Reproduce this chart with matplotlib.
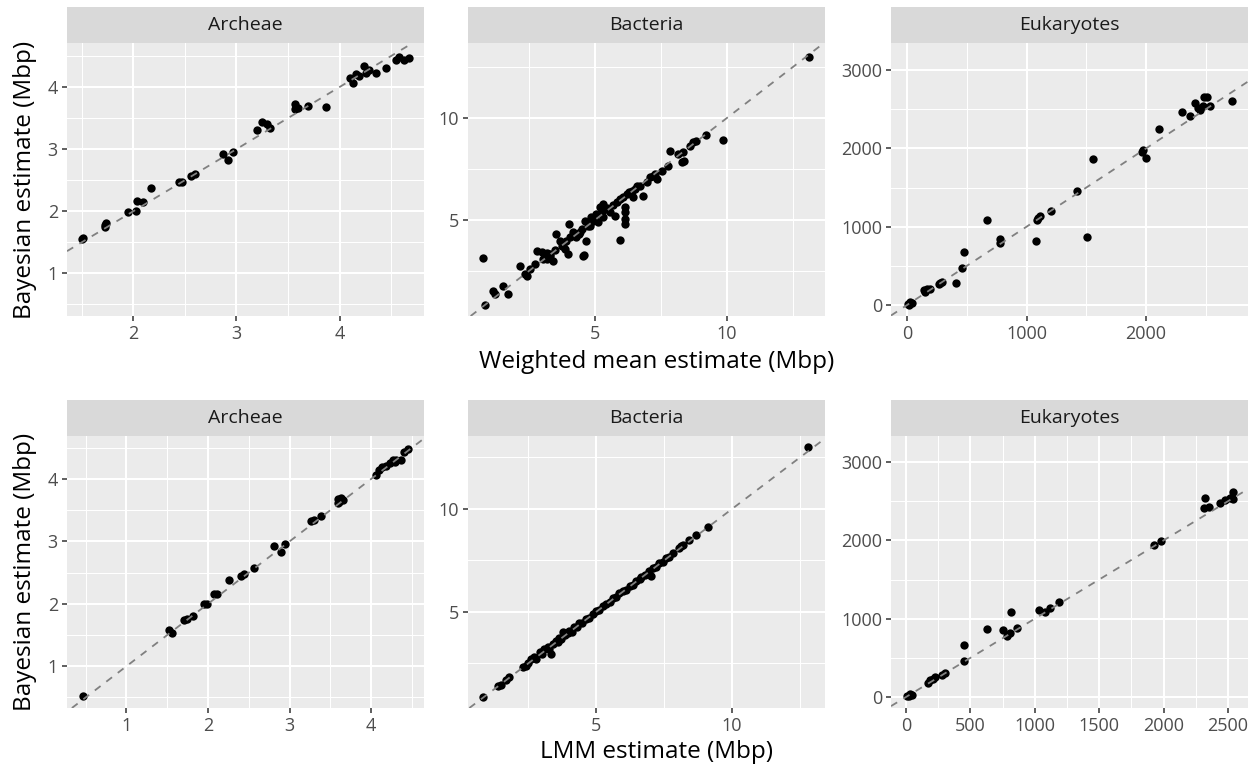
import matplotlib.pyplot as plt
from matplotlib.ticker import FixedLocator

plt.rcParams['font.family'] = ['Open Sans', 'DejaVu Sans']

# --- Archeae: weighted mean vs bayesian ---
arch_wm = [1.51, 1.50, 1.72, 1.72, 1.73, 1.95, 2.02, 2.03, 2.09, 2.17, 2.44, 2.47, 2.56, 2.60,
           2.87, 2.92, 2.97, 3.20, 3.25, 3.30, 3.33, 3.57, 3.57, 3.60, 3.69, 3.87, 4.10, 4.13,
           4.16, 4.19, 4.24, 4.26, 4.29, 4.35, 4.45, 4.55, 4.58, 4.63, 4.67]
arch_wm_bayes = [1.57, 1.55, 1.74, 1.78, 1.81, 1.99, 2.00, 2.16, 2.15, 2.38, 2.47, 2.47, 2.57, 2.60,
                 2.92, 2.83, 2.95, 3.31, 3.43, 3.41, 3.34, 3.72, 3.64, 3.66, 3.69, 3.68, 4.14, 4.06,
                 4.21, 4.18, 4.34, 4.23, 4.27, 4.23, 4.31, 4.44, 4.49, 4.44, 4.47]

# --- Bacteria: weighted mean vs bayesian ---
bact_wm = [13.10, 9.22, 9.87, 8.73, 8.61, 8.84, 7.85, 8.16, 8.35, 8.29, 8.38, 7.78, 7.53, 7.28,
           7.34, 7.09, 6.96, 6.71, 6.52, 6.39, 6.20, 6.08, 6.45, 6.83, 6.14, 6.14, 6.14, 6.14,
           5.95, 5.95, 5.57, 5.76, 5.32, 5.25, 5.06, 5.13, 4.87, 4.81, 4.62, 4.68, 4.43, 4.56,
           4.30, 4.18, 4.02, 4.05, 3.92, 3.99, 3.86, 3.80, 3.67, 3.54, 3.29, 3.17, 3.10, 2.98,
           2.79, 2.72, 2.53, 2.34, 2.15, 1.52, 1.71, 1.14, 1.20, 0.76, 0.82, 5.19, 5.44, 4.94,
           4.58, 3.42, 3.04, 2.41, 5.45, 5.00, 4.75, 4.50, 4.25, 3.75, 3.50, 3.30, 5.70, 5.85,
           6.30, 6.60, 7.20, 3.20, 4.40, 4.90, 5.30]
bact_wm_bayes = [13.00, 9.18, 8.92, 8.80, 8.64, 8.89, 8.36, 8.24, 8.31, 7.82, 7.91, 7.66, 7.42, 7.25,
                 7.00, 7.09, 6.84, 6.68, 6.52, 6.44, 6.27, 6.11, 6.11, 6.19, 5.62, 5.37, 5.05, 4.80,
                 4.02, 6.03, 5.37, 5.21, 5.78, 5.37, 5.29, 4.88, 5.13, 4.72, 4.97, 3.99, 4.39, 3.25,
                 4.15, 4.39, 4.80, 4.15, 3.99, 3.33, 3.58, 3.82, 3.99, 4.31, 3.25, 3.09, 3.25, 3.41,
                 3.50, 2.84, 2.60, 2.35, 2.76, 1.78, 1.37, 1.54, 1.37, 3.14, 0.85, 5.62, 5.54, 4.97,
                 3.30, 3.00, 3.09, 2.27, 5.60, 5.05, 4.70, 4.55, 4.20, 3.70, 3.55, 3.35, 5.75, 5.90,
                 6.35, 6.65, 7.15, 3.40, 4.30, 5.00, 5.15]

# --- Eukaryotes: weighted mean vs bayesian ---
euk_wm = [5, 28, 42, 17, 139, 167, 189, 153, 265, 292, 279, 412, 460, 474, 669, 780, 780, 1078,
          1086, 1114, 1100, 1203, 1421, 1504, 1552, 1978, 2000, 1964, 2109, 2298, 2368, 2409,
          2437, 2479, 2485, 2513, 2535, 2451, 2716]
euk_wm_bayes = [13, 43, 30, 0, 191, 200, 208, 170, 268, 298, 277, 277, 468, 672, 1085, 838, 787, 821,
                1085, 1136, 1106, 1204, 1455, 872, 1860, 1979, 1872, 1957, 2243, 2460, 2413, 2574,
                2511, 2540, 2660, 2651, 2540, 2489, 2609]

# --- Archeae: LMM vs bayesian ---
arch_lmm = [0.47, 1.52, 1.56, 1.70, 1.74, 1.82, 1.95, 1.99, 2.07, 2.11, 2.26, 2.40, 2.44, 2.57,
            2.81, 2.89, 2.95, 3.26, 3.30, 3.39, 3.59, 3.61, 3.63, 3.66, 3.60, 4.06, 4.10, 4.14,
            4.18, 4.23, 4.27, 4.29, 4.31, 4.37, 4.40, 4.45]
arch_lmm_bayes = [0.53, 1.58, 1.54, 1.74, 1.76, 1.81, 1.99, 2.00, 2.15, 2.16, 2.38, 2.45, 2.47, 2.57,
                  2.92, 2.83, 2.96, 3.32, 3.34, 3.41, 3.68, 3.64, 3.70, 3.67, 3.62, 4.07, 4.15, 4.19,
                  4.21, 4.25, 4.31, 4.27, 4.30, 4.30, 4.44, 4.48]

# --- Bacteria: LMM vs bayesian ---
bact_lmm = [0.83, 1.38, 1.50, 1.69, 1.81, 2.30, 2.43, 2.49, 2.62, 2.73, 2.79, 2.92, 3.02, 3.10,
            3.22, 3.28, 3.35, 3.41, 3.53, 3.60, 3.65, 3.71, 3.80, 3.84, 3.95, 4.02, 4.10, 4.20,
            4.30, 4.39, 4.50, 4.63, 4.75, 4.88, 5.00, 5.10, 5.25, 5.37, 5.50, 5.61, 5.75, 5.86,
            6.00, 6.10, 6.23, 6.35, 6.47, 6.60, 6.65, 6.80, 6.96, 7.02, 7.08, 7.20, 7.33, 7.45,
            7.57, 7.70, 7.82, 8.06, 8.12, 8.21, 8.43, 8.68, 9.10, 12.78]
bact_lmm_bayes = [0.86, 1.40, 1.47, 1.70, 1.83, 2.35, 2.40, 2.52, 2.70, 2.80, 2.74, 3.05, 2.98, 3.18,
                  3.30, 3.20, 2.95, 3.45, 3.58, 3.52, 3.75, 3.70, 4.05, 3.86, 3.98, 4.08, 4.05, 4.25,
                  4.28, 4.45, 4.48, 4.66, 4.72, 4.92, 5.05, 5.08, 5.30, 5.40, 5.48, 5.66, 5.72, 5.90,
                  6.02, 6.08, 6.28, 6.32, 6.52, 6.58, 6.72, 6.78, 7.00, 6.75, 7.12, 7.18, 7.36, 7.42,
                  7.60, 7.68, 7.85, 8.12, 8.20, 8.24, 8.48, 8.72, 9.12, 13.00]

# --- Eukaryotes: LMM vs bayesian ---
euk_lmm = [10, 31, 44, 26, 174, 187, 226, 213, 278, 304, 452, 452, 629, 753, 784, 810, 816, 862,
           1031, 1083, 1122, 1187, 1927, 1979, 2317, 2322, 2351, 2434, 2473, 2512, 2538, 2538]
euk_lmm_bayes = [17, 42, 30, 9, 179, 221, 255, 230, 285, 306, 455, 668, 872, 850, 782, 816, 1080, 876,
                 1105, 1080, 1135, 1207, 1943, 1986, 2411, 2538, 2423, 2474, 2517, 2538, 2611, 2526]

titles = ["Archeae", "Bacteria", "Eukaryotes"]

panels = [
    # x, y, xlim, ylim, xmajor, xminor, ymajor, yminor
    (arch_wm, arch_wm_bayes, (1.355, 4.82), (0.31, 4.71), [2, 3, 4], [1.5, 2.5, 3.5, 4.5],
     [1, 2, 3, 4], [0.5, 1.5, 2.5, 3.5, 4.5]),
    (bact_wm, bact_wm_bayes, (0.19, 13.72), (0.29, 13.68), [5, 10], [2.5, 7.5, 12.5],
     [5, 10], [2.5, 7.5, 12.5]),
    (euk_wm, euk_wm_bayes, (-134, 2853), (-140, 3345), [0, 1000, 2000], [500, 1500, 2500],
     [0, 1000, 2000, 3000], [500, 1500, 2500]),
    (arch_lmm, arch_lmm_bayes, (0.27, 4.65), (0.33, 4.69), [1, 2, 3, 4], [0.5, 1.5, 2.5, 3.5, 4.5],
     [1, 2, 3, 4], [0.5, 1.5, 2.5, 3.5, 4.5]),
    (bact_lmm, bact_lmm_bayes, (0.29, 13.42), (0.34, 13.54), [5, 10], [2.5, 7.5, 12.5],
     [5, 10], [2.5, 7.5, 12.5]),
    (euk_lmm, euk_lmm_bayes, (-116, 2655), (-140, 3332), [0, 500, 1000, 1500, 2000, 2500],
     [250, 750, 1250, 1750, 2250],
     [0, 1000, 2000, 3000], [500, 1500, 2500]),
]

W, H = 1250, 768
fig = plt.figure(figsize=(W / 100, H / 100), dpi=100)

col_left = [67, 468, 891]
col_w = 357
row_top = [43, 436]
row_h = [273, 272]
strip_h = 36

for i, (x, y, xl, yl, xmaj, xmin, ymaj, ymin) in enumerate(panels):
    r, c = divmod(i, 3)
    left = col_left[c] / W
    bottom = 1 - (row_top[r] + row_h[r]) / H
    ax = fig.add_axes([left, bottom, col_w / W, row_h[r] / H])
    ax.set_facecolor('#EBEBEB')
    ax.set_xlim(xl)
    ax.set_ylim(yl)
    ax.xaxis.set_major_locator(FixedLocator(xmaj))
    ax.xaxis.set_minor_locator(FixedLocator(xmin))
    ax.yaxis.set_major_locator(FixedLocator(ymaj))
    ax.yaxis.set_minor_locator(FixedLocator(ymin))
    ax.grid(which='major', color='white', lw=1.5)
    ax.grid(which='minor', color='white', lw=0.75)
    ax.set_axisbelow(True)
    for s in ax.spines.values():
        s.set_visible(False)
    ax.tick_params(which='major', length=3.5, width=1.1, color='#333333',
                   labelcolor='#4D4D4D', labelsize=13, pad=3)
    ax.tick_params(which='minor', length=0)

    ax.scatter(x, y, s=36, color='black', linewidths=0, zorder=3)
    ax.axline((0, 0), slope=1, color='#808080', lw=1.3, ls=(0, (4, 4)), zorder=4)

    sax = fig.add_axes([left, 1 - row_top[r] / H, col_w / W, strip_h / H])
    sax.set_facecolor('#D9D9D9')
    sax.set_xticks([])
    sax.set_yticks([])
    for s in sax.spines.values():
        s.set_visible(False)
    sax.text(0.5, 0.5, titles[c], ha='center', va='center', fontsize=14,
             color='#1A1A1A', transform=sax.transAxes)

# axis titles
fig.text(25 / W, 1 - 179.5 / H, "Bayesian estimate (Mbp)", rotation=90,
         ha='center', va='center', fontsize=17.5, color='black')
fig.text(25 / W, 1 - 572 / H, "Bayesian estimate (Mbp)", rotation=90,
         ha='center', va='center', fontsize=17.5, color='black')
fig.text(657 / W, 1 - 362 / H, "Weighted mean estimate (Mbp)",
         ha='center', va='center', fontsize=17.5, color='black')
fig.text(657 / W, 1 - 752 / H, "LMM estimate (Mbp)",
         ha='center', va='center', fontsize=17.5, color='black')

fig.savefig('out.png', dpi=100)
